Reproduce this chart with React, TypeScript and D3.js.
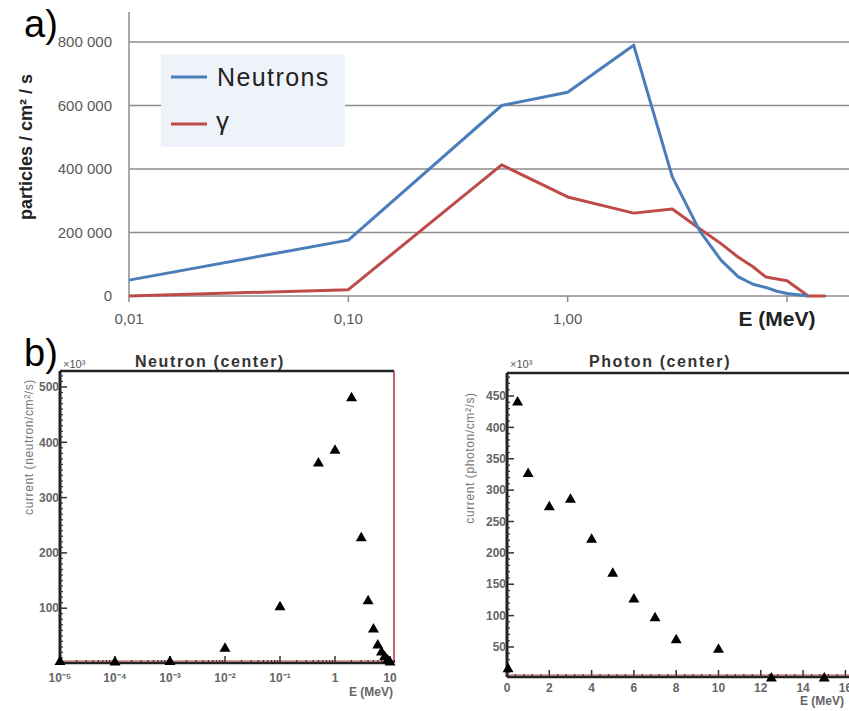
import React from "react";
import * as d3 from "d3";

// ---------- Panel a data ----------
const aNeutronE = [0.01, 0.1, 0.5, 1, 2, 3, 4, 5, 6, 7, 8, 9, 10, 12.5];
const aNeutronFlux = [50000, 176000, 600000, 642000, 790000, 375000, 205000, 113000, 60000, 37000, 27000, 15000, 8000, 0];
const aGammaE = [0.01, 0.1, 0.5, 1, 2, 3, 4, 5, 6, 7, 8, 10, 12.5, 15];
const aGammaFlux = [0, 20000, 413000, 312000, 261000, 274000, 212000, 165000, 122000, 92000, 60000, 48000, 0, 0];
const aYTicks = [0, 200000, 400000, 600000, 800000];
const aYTickLabels = ["0", "200 000", "400 000", "600 000", "800 000"];
const aXTicks = [0.01, 0.1, 1, 10];
const aXTickLabels = ["0,01", "0,10", "1,00", ""];
const aLegend = ["Neutrons", "γ"];

// ---------- Panel b data ----------
const bNeutronE = [1e-5, 1e-4, 1e-3, 1e-2, 0.1, 0.5, 1, 2, 3, 4, 5, 6, 7, 8, 9, 10];
const bNeutronCurrent = [3, 2, 3, 27, 102, 362, 385, 480, 227, 113, 62, 33, 20, 12, 6, 2];
const bNeutronXTicks = [1e-5, 1e-4, 1e-3, 1e-2, 1e-1, 1, 10];
const bNeutronXLabels = ["10⁻⁵", "10⁻⁴", "10⁻³", "10⁻²", "10⁻¹", "1", "10"];
const bNeutronYTicks = [100, 200, 300, 400, 500];

const bPhotonE = [0.05, 0.5, 1, 2, 3, 4, 5, 6, 7, 8, 10, 12.5, 15];
const bPhotonCurrent = [15, 440, 326, 273, 285, 221, 167, 126, 96, 61, 46, 0, 0];
const bPhotonXTicks = [0, 2, 4, 6, 8, 10, 12, 14, 16];
const bPhotonYTicks = [50, 100, 150, 200, 250, 300, 350, 400, 450];

const BLUE = "#4a7ebb";
const RED = "#be4b48";
const GRID = "#8c8c8c";
const TXT = "#595959";
const FONT = "'Liberation Sans', Arial, sans-serif";

export default function App() {
  // ---- panel a scales ----
  const ax = d3.scaleLog().domain([0.01, 10]).range([129, 787]);
  const ay = d3.scaleLinear().domain([0, 800000]).range([296, 42]);
  const lineA = d3
    .line<[number, number]>()
    .x((d) => ax(d[0]))
    .y((d) => ay(d[1]));
  const neutronPts = aNeutronE.map((e, i) => [e, aNeutronFlux[i]] as [number, number]);
  const gammaPts = aGammaE.map((e, i) => [e, aGammaFlux[i]] as [number, number]);

  // ---- panel b neutron scales ----
  const nx = d3.scaleLog().domain([1e-5, 10]).range([60, 390]);
  const ny = d3.scaleLinear().domain([0, 100]).range([663.5, 608.2]);
  const nLeft = 60, nRight = 394, nTop = 371, nBottom = 663;

  // ---- panel b photon scales ----
  const px = d3.scaleLinear().domain([0, 2]).range([507, 549.3]);
  const py = d3.scaleLinear().domain([50, 450]).range([647, 396]);
  const pLeft = 507, pTop = 373, pBottom = 677;

  const tri = d3.symbol(d3.symbolTriangle, 52)() as string;

  // minor ticks
  const nxMinor: number[] = [];
  for (let p = -5; p < 1; p++) for (let k = 2; k <= 9; k++) nxMinor.push(k * Math.pow(10, p));
  nxMinor.push(11, 12);
  const nyMinor = d3.range(0, 530, 10).filter((v) => v % 100 !== 0);
  const pyMinor = d3.range(0, 486, 10).filter((v) => v % 50 !== 0);
  const pxMinor = d3.range(0, 16.5, 0.4).filter((v) => Math.abs(v / 2 - Math.round(v / 2)) > 0.01);

  const bTick = { fontSize: 12, fill: "#666", fontWeight: "bold" as const };

  return (
    <svg
      width={849}
      height={711}
      style={{ position: "absolute", left: 0, top: 0, background: "#fff" }}
      fontFamily={FONT}
    >
      <rect x={0} y={0} width={849} height={711} fill="#fff" />

      {/* ================= Panel a ================= */}
      {aYTicks.map((v, i) => (
        <g key={"ag" + i}>
          <line x1={129} x2={849} y1={ay(v)} y2={ay(v)} stroke={GRID} strokeWidth={1.5} />
          <text x={112} y={ay(v)} dy="0.35em" textAnchor="end" fontSize={15} fill={TXT}>
            {aYTickLabels[i]}
          </text>
        </g>
      ))}
      <line x1={129} x2={129} y1={12} y2={296} stroke={GRID} strokeWidth={1.5} />
      {aXTicks.map((v, i) => (
        <g key={"ax" + i}>
          <line x1={ax(v)} x2={ax(v)} y1={296} y2={302} stroke={GRID} strokeWidth={1.5} />
          <text x={ax(v)} y={319} dy="0.35em" textAnchor="middle" fontSize={15} fill={TXT}>
            {aXTickLabels[i]}
          </text>
        </g>
      ))}
      <text x={777} y={319} dy="0.35em" textAnchor="middle" fontSize={21} fontWeight="bold" fill="#222">
        E (MeV)
      </text>
      <text
        transform="translate(26,147) rotate(-90)"
        textAnchor="middle"
        dy="0.35em"
        fontSize={18}
        fontWeight="bold"
        fill="#222"
      >
        particles / cm² / s
      </text>

      {/* legend */}
      <rect x={161} y={54} width={184} height={93} fill="#eef2f9" />
      <line x1={171} x2={207} y1={77} y2={77} stroke={BLUE} strokeWidth={3} />
      <text x={217} y={77} dy="0.35em" fontSize={25} fill="#222" letterSpacing={1.4}>
        {aLegend[0]}
      </text>
      <line x1={171} x2={207} y1={124} y2={124} stroke={RED} strokeWidth={3} />
      <text x={216} y={121} dy="0.35em" fontSize={26} fill="#222">
        {aLegend[1]}
      </text>

      <path d={lineA(gammaPts) as string} fill="none" stroke={RED} strokeWidth={3} strokeLinejoin="round" />
      <path d={lineA(neutronPts) as string} fill="none" stroke={BLUE} strokeWidth={3} strokeLinejoin="round" />

      <text x={24} y={37} fontSize={38} fill="#000">a)</text>

      {/* ================= Panel b: Neutron ================= */}
      <text x={24} y={366} fontSize={38} fill="#000">b)</text>
      <text x={210} y={367} textAnchor="middle" fontSize={16} fontWeight="bold" fill="#333" letterSpacing={1.6}>
        Neutron (center)
      </text>
      <text x={63} y={368} fontSize={11} fill="#555">×10³</text>
      {/* frame */}
      <line x1={nLeft} x2={nRight} y1={nTop} y2={nTop} stroke="#222" strokeWidth={2.5} />
      <line x1={nRight} x2={nRight} y1={nTop} y2={nBottom} stroke="#b03030" strokeWidth={1.5} />
      <line x1={nLeft} x2={nRight} y1={nBottom - 2} y2={nBottom - 2} stroke="#c04040" strokeWidth={1} />
      <line x1={nLeft} x2={nRight} y1={nBottom} y2={nBottom} stroke="#222" strokeWidth={2.5} />
      <line x1={nLeft} x2={nLeft} y1={nTop} y2={nBottom} stroke="#222" strokeWidth={3} />
      {/* y ticks */}
      {nyMinor.map((v) => (
        <line key={"nym" + v} x1={nLeft} x2={nLeft + 3} y1={ny(v)} y2={ny(v)} stroke="#333" strokeWidth={1.2} />
      ))}
      {bNeutronYTicks.map((v) => (
        <g key={"nyt" + v}>
          <line x1={nLeft} x2={nLeft + 7} y1={ny(v)} y2={ny(v)} stroke="#333" strokeWidth={1.5} />
          <text x={nLeft - 1} y={ny(v)} dy="0.35em" textAnchor="end" {...bTick}>
            {v}
          </text>
        </g>
      ))}
      {/* x ticks */}
      {nxMinor.map((v, i) => (
        <line key={"nxm" + i} x1={nx(v)} x2={nx(v)} y1={nBottom} y2={nBottom - 3} stroke="#333" strokeWidth={1.2} />
      ))}
      {bNeutronXTicks.map((v, i) => (
        <g key={"nxt" + i}>
          <line x1={nx(v)} x2={nx(v)} y1={nBottom} y2={nBottom - 7} stroke="#333" strokeWidth={1.5} />
          <text x={nx(v)} y={678} dy="0.35em" textAnchor="middle" {...bTick}>
            {bNeutronXLabels[i]}
          </text>
        </g>
      ))}
      <text x={393} y={692} dy="0.35em" textAnchor="end" fontSize={12} fill="#666" fontWeight="bold">E (MeV)</text>
      <text
        transform="translate(29,447) rotate(-90)"
        textAnchor="middle"
        dy="0.35em"
        fontSize={12}
        fill="#777"
        letterSpacing={0.6}
      >
        current (neutron/cm²/s)
      </text>
      {bNeutronE.map((e, i) => (
        <path key={"nt" + i} d={tri} transform={`translate(${nx(e)},${ny(bNeutronCurrent[i])})`} fill="#000" />
      ))}

      {/* ================= Panel b: Photon ================= */}
      <text x={660} y={367} textAnchor="middle" fontSize={16} fontWeight="bold" fill="#333" letterSpacing={1.6}>
        Photon (center)
      </text>
      <text x={510} y={368} fontSize={11} fill="#555">×10³</text>
      <line x1={pLeft} x2={849} y1={pTop} y2={pTop} stroke="#222" strokeWidth={2.5} />
      <line x1={pLeft} x2={849} y1={pBottom - 2} y2={pBottom - 2} stroke="#c04040" strokeWidth={1} />
      <line x1={pLeft} x2={849} y1={pBottom} y2={pBottom} stroke="#222" strokeWidth={2.5} />
      <line x1={pLeft} x2={pLeft} y1={pTop} y2={pBottom} stroke="#222" strokeWidth={3} />
      {pyMinor.map((v) => (
        <line key={"pym" + v} x1={pLeft} x2={pLeft + 3} y1={py(v)} y2={py(v)} stroke="#333" strokeWidth={1.2} />
      ))}
      {bPhotonYTicks.map((v) => (
        <g key={"pyt" + v}>
          <line x1={pLeft} x2={pLeft + 7} y1={py(v)} y2={py(v)} stroke="#333" strokeWidth={1.5} />
          <text x={pLeft - 1} y={py(v)} dy="0.35em" textAnchor="end" {...bTick}>
            {v}
          </text>
        </g>
      ))}
      {pxMinor.map((v, i) => (
        <line key={"pxm" + i} x1={px(v)} x2={px(v)} y1={pBottom} y2={pBottom - 3} stroke="#333" strokeWidth={1.2} />
      ))}
      {bPhotonXTicks.map((v) => (
        <g key={"pxt" + v}>
          <line x1={px(v)} x2={px(v)} y1={pBottom} y2={pBottom - 7} stroke="#333" strokeWidth={1.5} />
          <text x={px(v)} y={688} dy="0.35em" textAnchor="middle" {...bTick}>
            {v}
          </text>
        </g>
      ))}
      <text x={800} y={701} dy="0.35em" textAnchor="start" fontSize={12} fill="#666" fontWeight="bold">E (MeV)</text>
      <text
        transform="translate(470,458) rotate(-90)"
        textAnchor="middle"
        dy="0.35em"
        fontSize={12}
        fill="#777"
        letterSpacing={0.6}
      >
        current (photon/cm²/s)
      </text>
      {bPhotonE.map((e, i) => (
        <path key={"pt" + i} d={tri} transform={`translate(${px(e)},${py(bPhotonCurrent[i])})`} fill="#000" />
      ))}
    </svg>
  );
}
